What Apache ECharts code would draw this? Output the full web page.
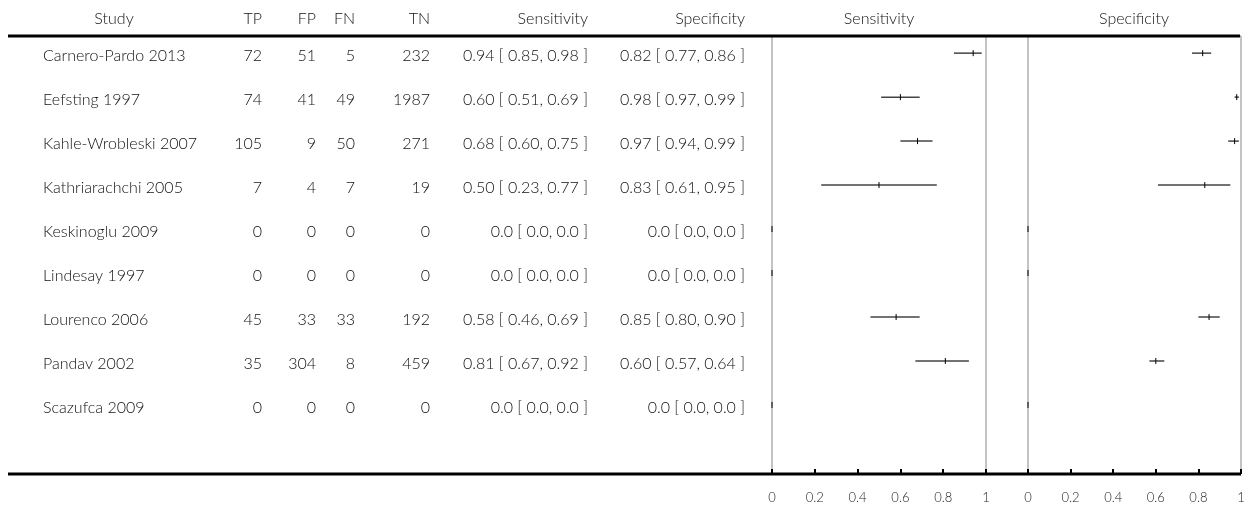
<!DOCTYPE html>
<html><head><meta charset="utf-8">
<script src="https://cdn.jsdelivr.net/npm/echarts@6/dist/echarts.min.js"></script>
<style>html,body{margin:0;padding:0;background:#fff}#c{width:1249px;height:512px}</style>
</head><body><div id="c"></div>
<script>
const studies = ['Carnero-Pardo 2013','Eefsting 1997','Kahle-Wrobleski 2007','Kathriarachchi 2005','Keskinoglu 2009','Lindesay 1997','Lourenco 2006','Pandav 2002','Scazufca 2009'];
const TP = [72,74,105,7,0,0,45,35,0];
const FP = [51,41,9,4,0,0,33,304,0];
const FN = [5,49,50,7,0,0,33,8,0];
const TN = [232,1987,271,19,0,0,192,459,0];
const sens   = [0.94,0.60,0.68,0.50,0,0,0.58,0.81,0];
const sensLo = [0.85,0.51,0.60,0.23,0,0,0.46,0.67,0];
const sensHi = [0.98,0.69,0.75,0.77,0,0,0.69,0.92,0];
const spec   = [0.82,0.98,0.97,0.83,0,0,0.85,0.60,0];
const specLo = [0.77,0.97,0.94,0.61,0,0,0.80,0.57,0];
const specHi = [0.86,0.99,0.99,0.95,0,0,0.90,0.64,0];
const headers = ['Study','TP','FP','FN','TN','Sensitivity','Specificity','Sensitivity','Specificity'];

const FONT = 'Lato, "Open Sans", sans-serif';
const TXT = '#111';
const fmt = v => v === 0 ? '0.0' : v.toFixed(2);
const ci = (p, l, h) => fmt(p) + ' [ ' + fmt(l) + ', ' + fmt(h) + ' ]';

const chart = echarts.init(document.getElementById('c'), null, {renderer:'canvas'});
const TOP = 36, BOTTOM = 38;
const YMIN = -0.39, YMAX = 9.57;
const TFONT = '300 16px ' + FONT;

const tableCols = [
  {x:43, align:'left', get:i=>studies[i]},
  {x:262, align:'right', get:i=>String(TP[i])},
  {x:316, align:'right', get:i=>String(FP[i])},
  {x:355, align:'right', get:i=>String(FN[i])},
  {x:430, align:'right', get:i=>String(TN[i])},
  {x:588, align:'right', get:i=>ci(sens[i],sensLo[i],sensHi[i])},
  {x:745, align:'right', get:i=>ci(spec[i],specLo[i],specHi[i])}
];
const headerPos = [
  {x:114, align:'center'},{x:262, align:'right'},{x:316, align:'right'},{x:355, align:'right'},{x:430, align:'right'},
  {x:588, align:'right'},{x:745, align:'right'},{x:879, align:'center'},{x:1134, align:'center'}
];

function forestItem(params, api){
  const p = api.value(0), lo = api.value(1), hi = api.value(2), r = api.value(3);
  const a = api.coord([lo, r]), b = api.coord([hi, r]), c = api.coord([p, r]);
  return {type:'group', children:[
    {type:'line', shape:{x1:a[0], y1:a[1], x2:b[0], y2:b[1]}, style:{stroke:'#444', lineWidth:1.5}},
    {type:'line', shape:{x1:c[0], y1:c[1]-3, x2:c[0], y2:c[1]+3}, style:{stroke:'#000', lineWidth:1}}
  ]};
}

const yAxisBase = {type:'value', inverse:true, min:YMIN, max:YMAX, show:false};
const xForest = {type:'value', min:0, max:1, interval:0.2, position:'bottom',
  axisLine:{show:false, onZero:false}, splitLine:{show:false},
  axisTick:{show:true, inside:true, length:5, lineStyle:{color:'#000', width:2}},
  axisLabel:{margin:17, fontFamily:FONT, fontWeight:300, fontSize:13, color:'#222',
    formatter:v => (v===0||v===1) ? String(v) : v.toFixed(1)}};

chart.setOption({
  animation:false,
  grid:[
    {left:0, width:770, top:TOP, bottom:BOTTOM, show:false},
    {left:772, width:214, top:TOP, bottom:BOTTOM, show:true, borderColor:'#888', borderWidth:1},
    {left:1028, width:213, top:TOP, bottom:BOTTOM, show:true, borderColor:'#888', borderWidth:1}
  ],
  xAxis:[
    {type:'value', gridIndex:0, min:0, max:1, show:false},
    Object.assign({gridIndex:1}, xForest),
    Object.assign({gridIndex:2}, xForest)
  ],
  yAxis:[
    Object.assign({gridIndex:0}, yAxisBase),
    Object.assign({gridIndex:1}, yAxisBase),
    Object.assign({gridIndex:2}, yAxisBase)
  ],
  series:[
    {type:'custom', xAxisIndex:0, yAxisIndex:0, silent:true,
     data: studies.map((s,i)=>[0,i]),
     renderItem:(params, api)=>{
       const i = api.value(1);
       const y = api.coord([0,i])[1] + 3;
       return {type:'group', children: tableCols.map(c=>({type:'text', x:c.x, y:y,
         style:{text:c.get(i), textAlign:c.align, textVerticalAlign:'middle', fill:TXT, font:TFONT}}))};
     }},
    {type:'custom', xAxisIndex:1, yAxisIndex:1, silent:true, clip:false,
     data: studies.map((s,i)=>[sens[i], sensLo[i], sensHi[i], i]), renderItem:forestItem},
    {type:'custom', xAxisIndex:2, yAxisIndex:2, silent:true, clip:false,
     data: studies.map((s,i)=>[spec[i], specLo[i], specHi[i], i]), renderItem:forestItem}
  ],
  graphic:[
    {type:'line', z:100, shape:{x1:8, y1:TOP, x2:1240, y2:TOP}, style:{stroke:'#000', lineWidth:3}},
    {type:'line', z:100, shape:{x1:8, y1:474, x2:1241, y2:474}, style:{stroke:'#000', lineWidth:3}}
  ].concat(headers.map((h,k)=>({type:'text', x:headerPos[k].x, y:19,
     style:{text:h, textAlign:headerPos[k].align, textVerticalAlign:'middle', fill:TXT, font:TFONT}})))
});
</script></body></html>
